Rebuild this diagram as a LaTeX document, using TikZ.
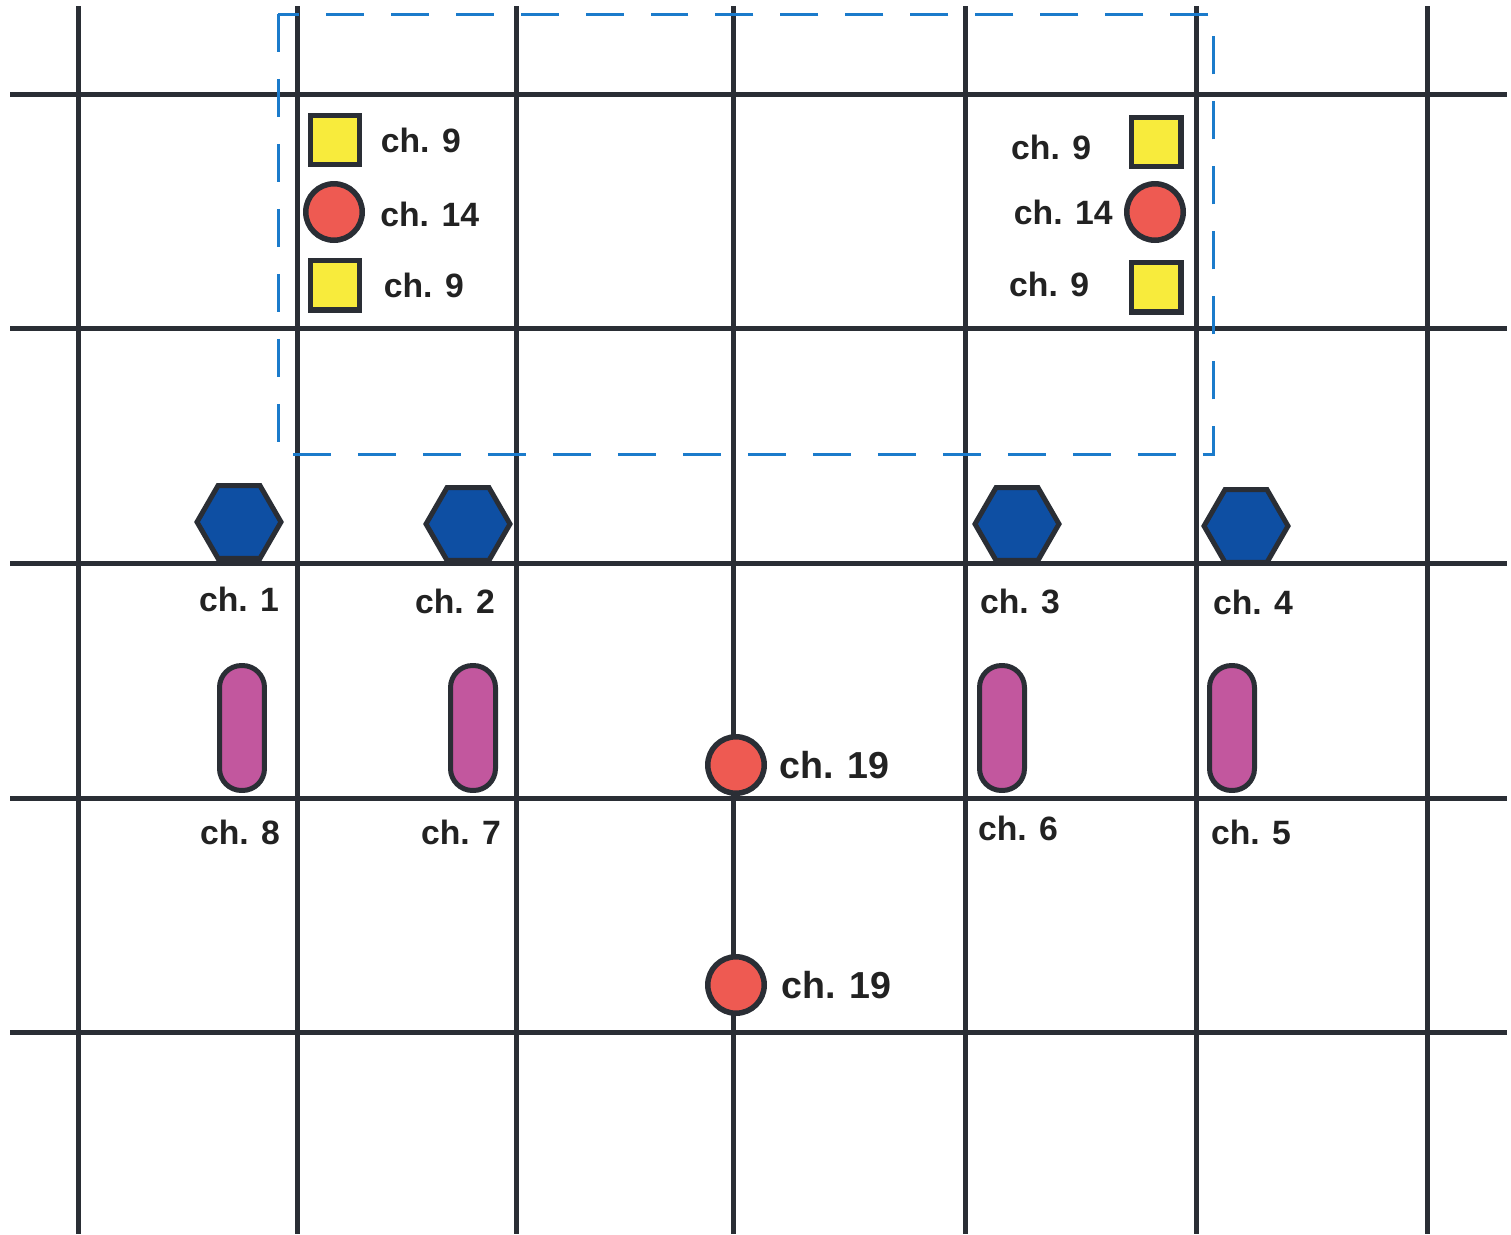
\documentclass[tikz,border=0pt]{standalone}
\usepackage{fontspec}
\setmainfont{Liberation Sans}
\usetikzlibrary{positioning, shapes.geometric}
\definecolor{gridline}{HTML}{2A2E35}
\definecolor{labeltext}{HTML}{222222}
\definecolor{sqyellow}{HTML}{F8EB3C}
\definecolor{dotred}{HTML}{EE5A52}
\definecolor{hexblue}{HTML}{0E4FA3}
\definecolor{pillpink}{HTML}{C2579E}
\definecolor{zoneblue}{HTML}{1B7BCB}

\begin{document}
\begin{tikzpicture}[x=0.02cm, y=-0.02cm, node distance=0.36cm,
    every node/.style={font=\fontsize{19.2}{23}\selectfont\bfseries, text=labeltext, inner sep=0pt},
    big/.style={font=\fontsize{21.4}{25}\selectfont\bfseries},
    grid/.style={draw=gridline, line width=0.1cm},
    zone/.style={draw=zoneblue, line width=0.06cm, dash pattern=on 0.76cm off 0.54cm},
    sq/.style={rectangle, draw=gridline, fill=sqyellow, line width=0.11cm, minimum size=0.99cm},
    dot/.style={circle, draw=gridline, fill=dotred, line width=0.11cm, minimum size=1.13cm},
    hexa/.style={regular polygon, regular polygon sides=6, draw=gridline, fill=hexblue,
                 line width=0.1cm, minimum size=1.68cm},
    pill/.style={rectangle, rounded corners=0.44cm, draw=gridline, fill=pillpink,
                 line width=0.1cm, minimum width=0.9cm, minimum height=2.5cm}]
    \useasboundingbox (0,0) rectangle (1511,1234);
    % grid
    \foreach \x in {78,297,516,733,965,1196,1427}
      \draw[grid] (\x,6) -- (\x,1234);
    \foreach \y in {94,328,563,798,1032}
      \draw[grid] (10,\y) -- (1507,\y);
    \draw[zone] (278,14) rectangle (1213,454);
    % upper left group
    \node[sq]  (sqA)  at (335,140) {};
    \node[dot] (dotA) at (334,212) {};
    \node[sq]  (sqB)  at (335,285) {};
    \node (labA) [right=0.36cm of sqA] {ch. 9};
    \node (labB) [right=0.3cm of dotA, yshift=-0.04cm] {ch. 14};
    \node (labC) [right=0.42cm of sqB] {ch. 9};
    % upper right group
    \node[sq]  (sqC)  at (1156,142) {};
    \node[dot] (dotB) at (1155,212) {};
    \node[sq]  (sqD)  at (1156,287) {};
    \node (labD) [left=0.74cm of sqC, yshift=-0.1cm] {ch. 9};
    \node (labE) [left=0.22cm of dotB] {ch. 14};
    \node (labF) [left=0.78cm of sqD, yshift=0.06cm] {ch. 9};
    % hexagons
    \node[hexa] (hexA) at (239,522) {};
    \node[hexa] (hexB) at (468,524) {};
    \node[hexa] (hexC) at (1017,524) {};
    \node[hexa] (hexD) at (1246,526) {};
    \node (ch1) [below=0.52cm of hexA] {ch. 1};
    \node (ch2) [below=0.52cm of hexB, xshift=-0.26cm] {ch. 2};
    \node (ch3) [below=0.52cm of hexC, xshift=0.06cm] {ch. 3};
    \node (ch4) [below=0.5cm of hexD, xshift=0.14cm] {ch. 4};
    % pills
    \node[pill] (pilA) at (242,728) {};
    \node[pill] (pilB) at (473,728) {};
    \node[pill] (pilC) at (1002,728) {};
    \node[pill] (pilD) at (1232,728) {};
    \node (ch8) [below=0.54cm of pilA, xshift=-0.04cm] {ch. 8};
    \node (ch7) [below=0.54cm of pilB, xshift=-0.24cm] {ch. 7};
    \node (ch6) [below=0.46cm of pilC, xshift=0.32cm] {ch. 6};
    \node (ch5) [below=0.54cm of pilD, xshift=0.38cm] {ch. 5};
    % centre column
    \node[dot] (dotC) at (736,765) {};
    \node[dot] (dotD) at (736,985) {};
    \node[big] (ch19a) [right=0.24cm of dotC] {ch. 19};
    \node[big] (ch19b) [right=0.28cm of dotD] {ch. 19};
\end{tikzpicture}
\end{document}
